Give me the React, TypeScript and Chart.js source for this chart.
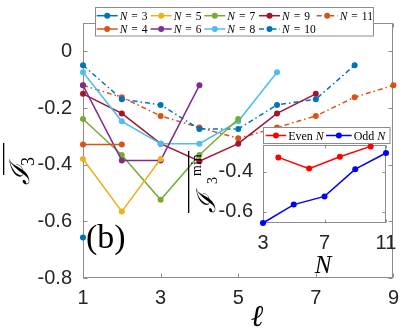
import React, { useEffect, useRef } from "react";
import { Chart, registerables } from "chart.js";
Chart.register(...registerables);

// ---------- data ----------
const ell = [1, 2, 3, 4, 5, 6, 7, 8, 9];
const xTickVals = [1, 3, 5, 7, 9];
const yTickVals = [-0.8, -0.6, -0.4, -0.2, 0];

const N3 = [-0.657];
const N4 = [-0.329, -0.329];
const N5 = [-0.38, -0.565, -0.38];
const N6 = [-0.12, -0.385, -0.385, -0.12];
const N7 = [-0.239, -0.366, -0.524, -0.366, -0.239];
const N8 = [-0.074, -0.247, -0.326, -0.326, -0.247, -0.074];
const N9 = [-0.15, -0.219, -0.326, -0.388, -0.326, -0.219, -0.15];
const N10 = [-0.049, -0.169, -0.189, -0.274, -0.274, -0.189, -0.169, -0.049];
const N11 = [-0.12, -0.162, -0.228, -0.269, -0.307, -0.269, -0.228, -0.162, -0.12];

const seriesN = [3, 4, 5, 6, 7, 8, 9, 10, 11];
const seriesValues = [N3, N4, N5, N6, N7, N8, N9, N10, N11];

const evenN = [4, 6, 8, 10];
const evenMin = [-0.329, -0.385, -0.326, -0.274];
const oddN = [3, 5, 7, 9, 11];
const oddMin = [-0.657, -0.565, -0.524, -0.388, -0.307];
const insetXTicks = [3, 7, 11];
const insetYTicks = [-0.6, -0.4];

// ---------- styles ----------
const seriesColors = ["#0072BD", "#D95319", "#EDB120", "#7E2F8E", "#77AC30", "#4DBEEE", "#A2142F", "#0072BD", "#D95319"];
const DASHDOT = [5, 3, 1.5, 3];
const seriesDash = [[], [], [], [], [], [], [], DASHDOT, DASHDOT];
const FRAME = "#8c8c8c";
const TICKCOL = "#262626";

function frameTicks(xt: number[], yt: number[], len: number) {
  return {
    id: "frameTicks",
    beforeDatasetsDraw(chart: any) {
      const { ctx, chartArea, scales } = chart;
      const { left, right, top, bottom } = chartArea;
      ctx.save();
      ctx.strokeStyle = FRAME;
      ctx.lineWidth = 1;
      const L = Math.round(left) + 0.5, R = Math.round(right) - 0.5;
      const T = Math.round(top) + 0.5, B = Math.round(bottom) - 0.5;
      ctx.strokeRect(L, T, R - L, B - T);
      ctx.beginPath();
      for (const v of xt) {
        const px = Math.round(scales.x.getPixelForValue(v)) + 0.5;
        ctx.moveTo(px, B); ctx.lineTo(px, B - len);
        ctx.moveTo(px, T); ctx.lineTo(px, T + len);
      }
      for (const v of yt) {
        const py = Math.round(scales.y.getPixelForValue(v)) + 0.5;
        ctx.moveTo(L, py); ctx.lineTo(L + len, py);
        ctx.moveTo(R, py); ctx.lineTo(R - len, py);
      }
      ctx.stroke();
      ctx.restore();
    },
  };
}

function drawLegendItem(ctx: CanvasRenderingContext2D, x0: number, yc: number, lineLen: number,
  color: string, dash: number[], parts: { t: string; it: boolean; gap?: number }[], size: number) {
  ctx.save();
  ctx.strokeStyle = color;
  ctx.lineWidth = 1.5;
  ctx.setLineDash(dash);
  ctx.beginPath();
  ctx.moveTo(x0, yc);
  ctx.lineTo(x0 + lineLen, yc);
  ctx.stroke();
  ctx.setLineDash([]);
  ctx.fillStyle = color;
  ctx.beginPath();
  ctx.arc(x0 + lineLen / 2, yc, 3, 0, Math.PI * 2);
  ctx.fill();
  ctx.fillStyle = "#000";
  ctx.textBaseline = "alphabetic";
  ctx.textAlign = "left";
  let x = x0 + lineLen + 2;
  for (const p of parts) {
    x += p.gap || 0;
    ctx.font = (p.it ? "italic " : "") + size + 'px "Liberation Serif"';
    ctx.fillText(p.t, x, yc + size * 0.35);
    x += ctx.measureText(p.t).width;
  }
  ctx.restore();
}

const mainDecor = {
  id: "mainDecor",
  afterDraw(chart: any) {
    const ctx: CanvasRenderingContext2D = chart.ctx;
    ctx.save();
    // legend box
    ctx.fillStyle = "#fff";
    ctx.fillRect(95, 7, 278, 29);
    ctx.strokeStyle = FRAME;
    ctx.lineWidth = 1;
    ctx.strokeRect(95.5, 7.5, 278, 28.5);
    const cols = [96.7, 150.7, 204.3, 259, 316.7];
    const rows = [15.7, 29];
    seriesN.forEach((n, i) => {
      const col = Math.floor(i / 2), row = i % 2;
      drawLegendItem(ctx, cols[col], rows[row], 21, seriesColors[i], seriesDash[i],
        [{ t: "N", it: true }, { t: "=", it: false, gap: 4 }, { t: String(n), it: false, gap: 4 }], 11.5);
    });
    // (b)
    ctx.fillStyle = "#000";
    ctx.font = '34px "Liberation Serif"';
    ctx.textAlign = "left";
    ctx.textBaseline = "alphabetic";
    ctx.fillText("(b)", 86, 248);
    // x title
    ctx.font = 'italic 30px "DejaVu Serif"';
    ctx.textAlign = "center";
    ctx.fillText("ℓ", 257, 326);
    // y title
    ctx.translate(29, 185);
    ctx.rotate(-Math.PI / 2);
    ctx.textAlign = "left";
    ctx.font = 'italic 27px "DejaVu Serif"';
    ctx.fillText("ℐ", 0, 0);
    const w = ctx.measureText("ℐ").width;
    ctx.font = '18px "Liberation Serif"';
    ctx.fillText("3", w - 1, 5);
    ctx.fillRect(10, -26, 32, 1.3);
    ctx.restore();
  },
};

const insetDecor = {
  id: "insetDecor",
  beforeDraw(chart: any) {
    const { ctx, chartArea } = chart;
    ctx.save();
    ctx.fillStyle = "#fff";
    ctx.fillRect(chartArea.left, chartArea.top, chartArea.right - chartArea.left, chartArea.bottom - chartArea.top);
    ctx.restore();
  },
  afterDraw(chart: any) {
    const ctx: CanvasRenderingContext2D = chart.ctx;
    ctx.save();
    ctx.fillStyle = "#fff";
    ctx.fillRect(263, 127, 127, 16);
    ctx.strokeStyle = FRAME;
    ctx.lineWidth = 1;
    ctx.strokeRect(263.5, 127.5, 126.5, 16);
    drawLegendItem(ctx, 265.7, 135.5, 20.5, "#FF0000", [], [{ t: "Even ", it: false }, { t: "N", it: true }], 12);
    drawLegendItem(ctx, 326, 135.5, 25.7, "#0000FF", [], [{ t: "Odd ", it: false }, { t: "N", it: true }], 12);
    // x title
    ctx.fillStyle = "#000";
    ctx.font = 'italic 25px "Liberation Serif"';
    ctx.textAlign = "center";
    ctx.textBaseline = "alphabetic";
    ctx.fillText("N", 323, 273);
    // y title
    ctx.translate(215, 213);
    ctx.rotate(-Math.PI / 2);
    ctx.textAlign = "left";
    ctx.font = 'italic 26px "DejaVu Serif"';
    ctx.fillText("ℐ", 0, 0);
    ctx.font = '14px "Liberation Serif"';
    ctx.fillText("3", 29, 2);
    ctx.fillText("min", 37, -14);
    ctx.fillRect(0, -27, 62, 1.3);
    ctx.restore();
  },
};

export default function App() {
  const mainRef = useRef<HTMLCanvasElement>(null);
  const insetRef = useRef<HTMLCanvasElement>(null);

  useEffect(() => {
    const tickFont = { family: '"Liberation Sans", Arial, sans-serif', size: 20 };
    const fmt = (v: any) => String(Math.round(Number(v) * 10) / 10);

    const main = new Chart(mainRef.current!, {
      type: "line",
      data: {
        datasets: seriesValues.map((vals, i) => ({
          label: "N = " + seriesN[i],
          data: vals.map((v, j) => ({ x: ell[j], y: v })),
          borderColor: seriesColors[i],
          backgroundColor: seriesColors[i],
          borderWidth: 1.5,
          borderDash: seriesDash[i],
          pointRadius: 3,
          pointBorderWidth: 0,
          pointBackgroundColor: seriesColors[i],
          pointHoverRadius: 3,
          tension: 0,
          clip: false as any,
        })),
      },
      options: {
        animation: false,
        responsive: false,
        devicePixelRatio: 1,
        events: [],
        layout: { padding: { top: 3, right: 9, left: 0, bottom: 0 } },
        plugins: { legend: { display: false }, tooltip: { enabled: false } },
        scales: {
          x: {
            type: "linear",
            min: 1,
            max: 9,
            afterBuildTicks: (s: any) => { s.ticks = xTickVals.map((v) => ({ value: v })); },
            afterFit: (s: any) => { s.height = 54; },
            grid: { display: false, drawTicks: false },
            border: { display: false },
            ticks: { font: tickFont, color: TICKCOL, padding: 8, maxRotation: 0, callback: fmt },
          },
          y: {
            type: "linear",
            min: -0.8,
            max: 0.1,
            afterBuildTicks: (s: any) => { s.ticks = yTickVals.map((v) => ({ value: v })); },
            afterFit: (s: any) => { s.width = 83; },
            grid: { display: false, drawTicks: false },
            border: { display: false },
            ticks: { font: tickFont, color: TICKCOL, padding: 11, callback: fmt },
          },
        },
      },
      plugins: [frameTicks(xTickVals, yTickVals, 4), mainDecor],
    });

    const inset = new Chart(insetRef.current!, {
      type: "line",
      data: {
        datasets: [
          {
            label: "Even N",
            data: evenN.map((n, i) => ({ x: n, y: evenMin[i] })),
            borderColor: "#FF0000",
            backgroundColor: "#FF0000",
            borderWidth: 1.5,
            pointRadius: 3,
            pointBorderWidth: 0,
            pointBackgroundColor: "#FF0000",
            tension: 0,
            clip: false as any,
          },
          {
            label: "Odd N",
            data: oddN.map((n, i) => ({ x: n, y: oddMin[i] })),
            borderColor: "#0000FF",
            backgroundColor: "#0000FF",
            borderWidth: 1.5,
            pointRadius: 3,
            pointBorderWidth: 0,
            pointBackgroundColor: "#0000FF",
            tension: 0,
            clip: false as any,
          },
        ],
      },
      options: {
        animation: false,
        responsive: false,
        devicePixelRatio: 1,
        events: [],
        layout: { padding: { top: 145, right: 21, left: 0, bottom: 0 } },
        plugins: { legend: { display: false }, tooltip: { enabled: false } },
        scales: {
          x: {
            type: "linear",
            min: 3,
            max: 11,
            afterBuildTicks: (s: any) => { s.ticks = insetXTicks.map((v) => ({ value: v })); },
            afterFit: (s: any) => { s.height = 109; },
            grid: { display: false, drawTicks: false },
            border: { display: false },
            ticks: { font: tickFont, color: TICKCOL, padding: 8, maxRotation: 0, callback: fmt },
          },
          y: {
            type: "linear",
            min: -0.657,
            max: -0.267,
            afterBuildTicks: (s: any) => { s.ticks = insetYTicks.map((v) => ({ value: v })); },
            afterFit: (s: any) => { s.width = 263; },
            grid: { display: false, drawTicks: false },
            border: { display: false },
            ticks: { font: tickFont, color: TICKCOL, padding: 10, callback: fmt },
          },
        },
      },
      plugins: [frameTicks(insetXTicks, insetYTicks, 3), insetDecor],
    });

    return () => {
      main.destroy();
      inset.destroy();
    };
  }, []);

  return (
    <div style={{ position: "absolute", left: 0, top: 0, width: 407, height: 332, background: "#fff" }}>
      <canvas ref={mainRef} width={407} height={332} style={{ position: "absolute", left: 0, top: 0 }} />
      <canvas ref={insetRef} width={407} height={332} style={{ position: "absolute", left: 0, top: 0 }} />
    </div>
  );
}
